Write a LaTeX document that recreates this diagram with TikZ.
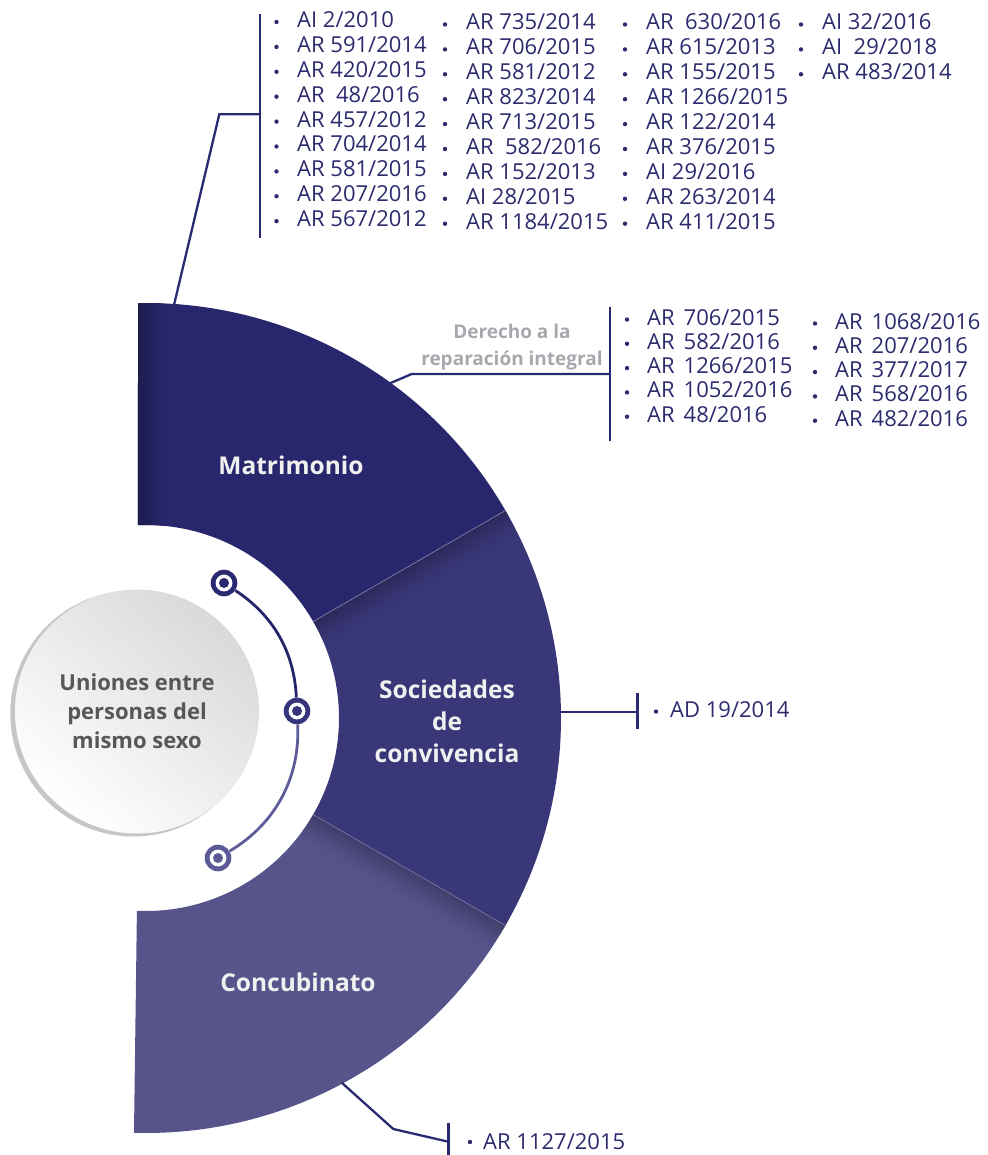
\documentclass[tikz,border=0pt]{standalone}
\usepackage{fontspec}
\setmainfont{Open Sans}
\usetikzlibrary{calc}
\definecolor{navy}{HTML}{2A2A72}
\definecolor{matc}{HTML}{28276E}
\definecolor{matdark}{HTML}{1C1C4E}
\definecolor{socc}{HTML}{3A3778}
\definecolor{socdark}{HTML}{23214A}
\definecolor{conc}{HTML}{56548B}
\definecolor{condark}{HTML}{2E2C50}
\definecolor{txtnavy}{HTML}{2B2B6E}
\definecolor{greytxt}{HTML}{575757}
\definecolor{dergrey}{HTML}{A7A8AE}
\definecolor{arcone}{HTML}{25256B}
\definecolor{arctwo}{HTML}{5E5C98}
\definecolor{mkone}{HTML}{2A2A72}
\definecolor{mktwo}{HTML}{36347A}
\definecolor{mkthree}{HTML}{5B5996}
\definecolor{discgrey}{HTML}{D8D9D9}
\definecolor{rimgrey}{HTML}{C6C6C6}
\newcommand\matshape{($(146,-718)+(30:415)$) arc[start angle=30,end angle=91.1,radius=415] -- ($(146,-718)+(92.4:193)$) arc[start angle=92.4,end angle=30,radius=193] -- cycle}
\newcommand\socshape{($(146,-718)+(-30:415)$) arc[start angle=-30,end angle=30,radius=415] -- ($(146,-718)+(30:193)$) arc[start angle=30,end angle=-30,radius=193] -- cycle}
\newcommand\conshape{($(146,-718)+(-30:415)$) arc[start angle=-30,end angle=-91.66,radius=415] -- ($(146,-718)+(-92.7:193)$) arc[start angle=-92.7,end angle=-30,radius=193] -- cycle}
\begin{document}
\begin{tikzpicture}[x=1pt,y=1pt,
  item/.style={anchor=base west, inner sep=0pt, text=txtnavy, font=\fontsize{22}{25}\selectfont},
  conn/.style={draw=navy, line width=2.3pt},
  barline/.style={draw=navy, line width=2.8pt},
  seclabel/.style={text=white!94!black, font=\bfseries\fontsize{24.5}{32}\selectfont, align=center, inner sep=0pt},
  marker/.style={circle, fill=#1, minimum size=26.6pt, inner sep=0pt,
    path picture={\fill[white] (path picture bounding box.center) circle (8.4);
                  \fill[#1] (path picture bounding box.center) circle (5);}},
]
\useasboundingbox (0,0) rectangle (987,-1155);

% sectors
\fill[matc] \matshape;
\begin{scope}
  \clip \matshape;
  \shade[left color=matdark, right color=matc] (137,-300) rectangle (163,-530);
\end{scope}
\fill[socc] \socshape;
\begin{scope}
  \clip \socshape;
  \begin{scope}[shift={(146,-718)}, rotate=30]
    \foreach \k in {0,...,13}{
      \draw[socdark, line width=2.2pt, opacity={0.55*(1-\k/14)^1.6}] (180,{-1-2*\k}) -- (430,{-1-2*\k});
    }
  \end{scope}
\end{scope}
\fill[conc] \conshape;
\begin{scope}
  \clip \conshape;
  \begin{scope}[shift={(146,-718)}, rotate=-30]
    \foreach \k in {0,...,14}{
      \draw[condark, line width=2.2pt, opacity={0.5*(1-\k/15)^1.6}] (180,{-1-2*\k}) -- (430,{-1-2*\k});
    }
  \end{scope}
\end{scope}
\draw[line width=0.7pt, color=white!35!socc] ($(146,-718)+(30:193)$) -- ($(146,-718)+(30:415)$);
\draw[line width=0.7pt, color=white!30!socc] ($(146,-718)+(-30:193)$) -- ($(146,-718)+(-30:415)$);

% sector labels
\node[seclabel] (mat) at (291,-465) {Matrimonio};
\node[seclabel] (soc) at (447,-721) {Sociedades\\de\\convivencia};
\node[seclabel] (con) at (298,-982) {Concubinato};

% central disc
\fill[rimgrey] (133.3,-713.5) circle (123);
\node[circle, minimum size=244pt, inner sep=0pt, top color=discgrey, bottom color=white, shading angle=-40,
      text=greytxt, align=center, font=\bfseries\fontsize{22}{29}\selectfont] (uni) at (137,-711.5)
      {Uniones entre\\personas del\\mismo sexo};

% arc with markers
\node[marker=mkone] (m1) at (224,-583) {};
\node[marker=mktwo] (m2) at (297,-711) {};
\node[marker=mkthree] (m3) at (218,-858) {};
\draw[line width=2.8pt, arcone] (m1) to[bend left=27, looseness=0.95] (m2);
\draw[line width=2.8pt, arctwo] (m2) to[bend left=31, looseness=0.95] (m3);

% ---------- Matrimonio list ----------
\foreach \t [count=\i] in {AI 2/2010, AR 591/2014, AR 420/2015, AR\ \ 48/2016, AR 457/2012, AR 704/2014, AR 581/2015, AR 207/2016, AR 567/2012}{
  \node[item] (a\i) at (297,{-27.5-24.9*(\i-1)}) {\t};
  \fill[txtnavy] ($(a\i.base west)+(-20.5,5.5)$) circle (2.2);
}
\foreach \t [count=\i] in {AR 735/2014, AR 706/2015, AR 581/2012, AR 823/2014, AR 713/2015, AR\ \ 582/2016, AR 152/2013, AI 28/2015, AR 1184/2015}{
  \node[item] (b\i) at (466,{-30-24.9*(\i-1)}) {\t};
  \fill[txtnavy] ($(b\i.base west)+(-21,5.5)$) circle (2.2);
}
\foreach \t [count=\i] in {AR\ \ 630/2016, AR 615/2013, AR 155/2015, AR 1266/2015, AR 122/2014, AR 376/2015, AI 29/2016, AR 263/2014, AR 411/2015}{
  \node[item] (c\i) at (646,{-30-24.9*(\i-1)}) {\t};
  \fill[txtnavy] ($(c\i.base west)+(-21,5.5)$) circle (2.2);
}
\foreach \t [count=\i] in {AI 32/2016, AI\ \ 29/2018, AR 483/2014}{
  \node[item] (d\i) at (822,{-30-24.9*(\i-1)}) {\t};
  \fill[txtnavy] ($(d\i.base west)+(-21,5.5)$) circle (2.2);
}
\coordinate (matTop) at (260,-14);
\coordinate (matBot) at (260,-238);
\coordinate (matJoin) at (260,-114.3);
\coordinate (matBend) at (219.3,-114.3);
\coordinate (matEdge) at (174,-305);
\draw[barline] (matTop) -- (matBot);
\draw[conn] (matEdge) -- (matBend) -- (matJoin);

% ---------- Derecho a la reparacion integral ----------
\node[text=dergrey, align=center, font=\bfseries\fontsize{19}{27}\selectfont, inner sep=0pt] (der) at (512,-347.5)
  {Derecho a la\\reparación integral};
\foreach \t [count=\i] in {706/2015, 582/2016, 1266/2015, 1052/2016, 48/2016}{
  \node[item] (e\i) at (647,{-325-24.3*(\i-1)}) {AR\hspace{9pt}\t};
  \fill[txtnavy] ($(e\i.base west)+(-20,5.5)$) circle (2.2);
}
\foreach \t [count=\i] in {1068/2016, 207/2016, 377/2017, 568/2016, 482/2016}{
  \node[item] (f\i) at (835,{-329-24.3*(\i-1)}) {AR\hspace{9pt}\t};
  \fill[txtnavy] ($(f\i.base west)+(-20,5.5)$) circle (2.2);
}
\coordinate (derTop) at (610,-307);
\coordinate (derBot) at (610,-441);
\coordinate (derJoin) at (610,-374);
\coordinate (derBend) at (411.7,-374);
\coordinate (derEdge) at (388.3,-384);
\draw[barline] (derTop) -- (derBot);
\draw[conn] (derEdge) -- (derBend) -- (derJoin);

% ---------- Sociedades ----------
\node[item] (g1) at (670,-717.5) {AD 19/2014};
\fill[txtnavy] ($(g1.base west)+(-14,6)$) circle (2.2);
\coordinate (socTop) at (637.7,-693);
\coordinate (socBot) at (637.7,-728.5);
\coordinate (socJoin) at (637.7,-712.3);
\coordinate (socEdge) at (561,-712.3);
\draw[barline] (socTop) -- (socBot);
\draw[conn] (socEdge) -- (socJoin);

% ---------- Concubinato ----------
\node[item] (h1) at (483,-1149) {AR 1127/2015};
\fill[txtnavy] ($(h1.base west)+(-13,7)$) circle (2.2);
\coordinate (conTop) at (448.3,-1122.7);
\coordinate (conBot) at (448.3,-1155);
\coordinate (conJoin) at (448.3,-1141.7);
\coordinate (conBend) at (393.3,-1129);
\coordinate (conEdge) at (341.7,-1082.7);
\draw[barline] (conTop) -- (conBot);
\draw[conn] (conEdge) -- (conBend) -- (conJoin);
\end{tikzpicture}
\end{document}
